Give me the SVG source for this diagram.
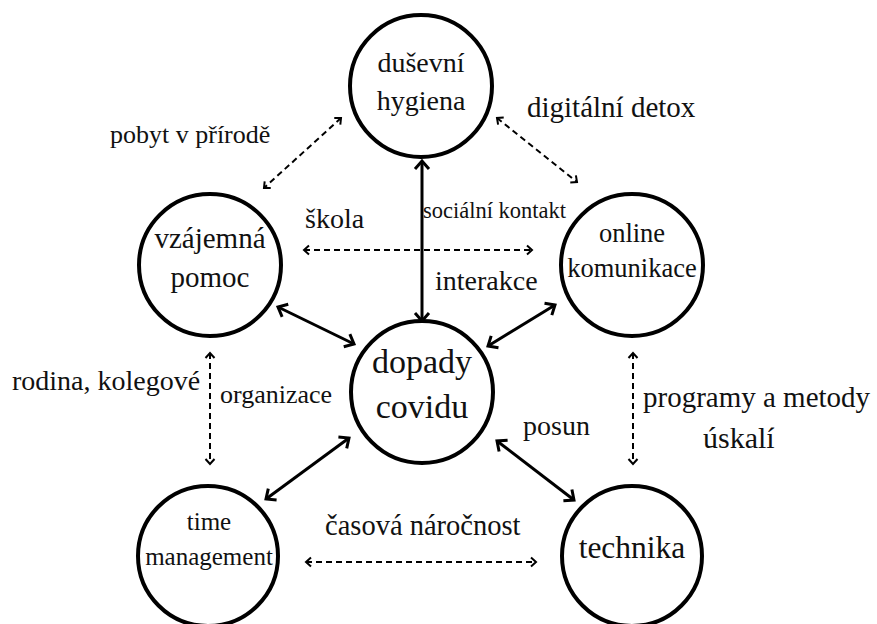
<svg xmlns="http://www.w3.org/2000/svg" width="877" height="624" viewBox="0 0 877 624">
<style>
.node circle{fill:#fff;stroke:#000;stroke-width:4}
.t{font-family:'Liberation Serif','Tinos','Times New Roman',Times,'DejaVu Serif',serif;fill:#111}
.c{text-anchor:middle}
.solid{stroke:#000;stroke-width:3;fill:none;marker-start:url(#hs);marker-end:url(#hs)}
.dash{stroke:#000;stroke-width:2;fill:none;stroke-dasharray:6 4;marker-start:url(#hd);marker-end:url(#hd)}
</style>
<defs>
<marker id="hs" viewBox="-10 -9 14 18" refX="0" refY="0" markerWidth="14" markerHeight="18" markerUnits="userSpaceOnUse" orient="auto-start-reverse">
<path d="M-8,-7 L0,0 L-8,7" fill="none" stroke="#000" stroke-width="3"/>
</marker>
<marker id="hd" viewBox="-8 -6 10 12" refX="0" refY="0" markerWidth="10" markerHeight="12" markerUnits="userSpaceOnUse" orient="auto-start-reverse">
<path d="M-5,-4.5 L0,0 L-5,4.5" fill="none" stroke="#000" stroke-width="2"/>
</marker>
</defs>
<rect width="877" height="624" fill="#fff"/>
<g id="connectors">
<line class="solid" x1="422" y1="161" x2="422" y2="321"/>
<line class="solid" x1="278" y1="307" x2="354" y2="344"/>
<line class="solid" x1="555" y1="305" x2="488" y2="346"/>
<line class="solid" x1="349" y1="438" x2="266" y2="499"/>
<line class="solid" x1="497" y1="441" x2="574" y2="500"/>
<line class="dash" x1="341" y1="118" x2="264" y2="188"/>
<line class="dash" x1="497" y1="118" x2="577" y2="182"/>
<line class="dash" x1="304" y1="250" x2="532" y2="250"/>
<line class="dash" x1="210" y1="353" x2="210" y2="464"/>
<line class="dash" x1="633" y1="353" x2="633" y2="464"/>
<line class="dash" x1="306" y1="562" x2="536" y2="562"/>
</g>
<g id="node-dusevni" class="node">
<circle cx="421" cy="86" r="71"/>
<text class="t c" x="421" y="72" font-size="28">duševní</text>
<text class="t c" x="421" y="110" font-size="28">hygiena</text>
</g>
<g id="node-vzajemna" class="node">
<circle cx="210" cy="265" r="71"/>
<text class="t c" x="210" y="248" font-size="29">vzájemná</text>
<text class="t c" x="210" y="287" font-size="29">pomoc</text>
</g>
<g id="node-online" class="node">
<circle cx="632" cy="265" r="71"/>
<text class="t c" x="632" y="242" font-size="26.5">online</text>
<text class="t c" x="632" y="277" font-size="26.5">komunikace</text>
</g>
<g id="node-dopady" class="node">
<circle cx="422" cy="392" r="71"/>
<text class="t c" x="422" y="373" font-size="34">dopady</text>
<text class="t c" x="422" y="418" font-size="34">covidu</text>
</g>
<g id="node-time" class="node">
<circle cx="208" cy="556" r="70"/>
<text class="t c" x="209" y="530" font-size="25">time</text>
<text class="t c" x="209" y="565" font-size="25">management</text>
</g>
<g id="node-technika" class="node">
<circle cx="632" cy="556" r="70"/>
<text class="t c" x="632" y="558" font-size="31.5">technika</text>
</g>
<g id="labels">
<text class="t" x="110" y="143" font-size="26">pobyt v přírodě</text>
<text class="t" x="527" y="117" font-size="29">digitální detox</text>
<text class="t" x="305" y="228" font-size="28">škola</text>
<text class="t" x="423" y="218" font-size="22.5">sociální kontakt</text>
<text class="t" x="435" y="290" font-size="28">interakce</text>
<text class="t" x="12" y="390" font-size="28">rodina, kolegové</text>
<text class="t" x="220" y="403" font-size="26">organizace</text>
<text class="t" x="325" y="535" font-size="28.5">časová náročnost</text>
<text class="t" x="523" y="435" font-size="28">posun</text>
<text class="t" x="643" y="407" font-size="29">programy a metody</text>
<text class="t" x="703" y="448" font-size="30">úskalí</text>
</g>
</svg>
